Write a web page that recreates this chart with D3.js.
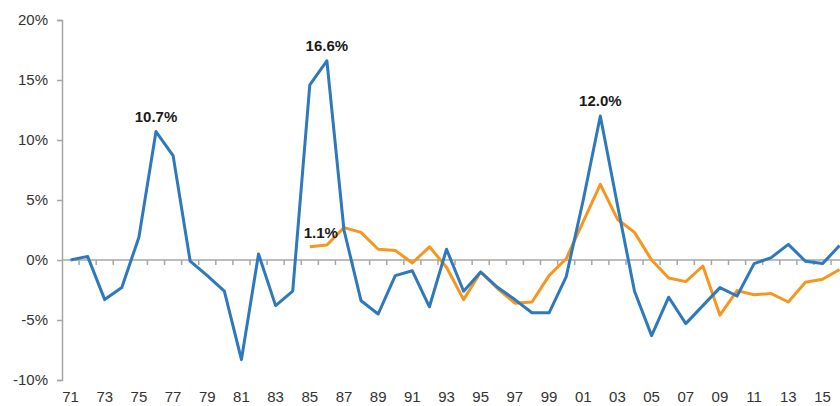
<!DOCTYPE html>
<html>
<head>
<meta charset="utf-8">
<script src="https://cdn.jsdelivr.net/npm/d3@7"></script>
<style>
  body { margin: 0; background: #fff; }
  svg { display: block; font-family: "Liberation Sans", Arial, sans-serif; }
</style>
</head>
<body>
<svg id="chart" width="840" height="406"></svg>
<script>
// categories (years) and series values, in %
const years = [1971, 1972, 1973, 1974, 1975, 1976, 1977, 1978, 1979, 1980,
  1981, 1982, 1983, 1984, 1985, 1986, 1987, 1988, 1989, 1990,
  1991, 1992, 1993, 1994, 1995, 1996, 1997, 1998, 1999, 2000,
  2001, 2002, 2003, 2004, 2005, 2006, 2007, 2008, 2009, 2010,
  2011, 2012, 2013, 2014, 2015, 2016];

const blueValues = [0.0, 0.3, -3.3, -2.3, 1.9, 10.7, 8.7, -0.1, -1.3, -2.6,
  -8.3, 0.5, -3.8, -2.6, 14.6, 16.6, 2.5, -3.4, -4.5, -1.3,
  -0.9, -3.9, 0.9, -2.6, -1.0, -2.3, -3.3, -4.4, -4.4, -1.4,
  5.0, 12.0, 4.6, -2.6, -6.3, -3.1, -5.3, -3.8, -2.3, -3.0,
  -0.3, 0.2, 1.3, -0.1, -0.3, 1.2];

const orangeValues = [null, null, null, null, null, null, null, null, null, null,
  null, null, null, null, 1.1, 1.25, 2.7, 2.3, 0.9, 0.8,
  -0.25, 1.1, -0.6, -3.3, -1.0, -2.4, -3.6, -3.5, -1.3, 0.1,
  3.2, 6.3, 3.4, 2.3, 0.0, -1.5, -1.8, -0.5, -4.6, -2.55,
  -2.9, -2.8, -3.5, -1.85, -1.6, -0.8];

const yTicks = [-10, -5, 0, 5, 10, 15, 20];
const xTickYears = years.filter((y, i) => i % 2 === 0 && y < 2016);

// point labels
const blueLabels = [{ year: 1976, text: "10.7%" }, { year: 1986, text: "16.6%" }, { year: 2002, text: "12.0%" }];
const orangeLabels = [{ year: 1985, text: "1.1%" }];

const svg = d3.select("#chart");
const plotLeft = 62, plotTop = 20, plotBottom = 380;
const step = 17.09;

const x = d3.scaleBand()
  .domain(years)
  .range([plotLeft, plotLeft + step * years.length])
  .paddingInner(0).paddingOuter(0);

const y = d3.scaleLinear().domain([-10, 20]).range([plotBottom, plotTop]);

const cx = d => x(d) + x.bandwidth() / 2;
const fmtYear = d => String(d).slice(2);

// y axis
const yAxis = svg.append("g")
  .attr("transform", `translate(${plotLeft},0)`)
  .call(d3.axisLeft(y).tickValues(yTicks).tickSize(5).tickPadding(9).tickFormat(d => d + "%"));
yAxis.select(".domain").attr("stroke", "#a6a6a6").attr("stroke-width", 1.5);
yAxis.selectAll(".tick line").attr("stroke", "#a6a6a6").attr("stroke-width", 1.5);
yAxis.selectAll(".tick text").attr("font-size", 15).attr("fill", "#333");

// x axis on the zero line, ticks between categories
const xg = svg.append("g").attr("transform", `translate(0,${y(0)})`);
xg.append("line")
  .attr("x1", plotLeft).attr("x2", 840)
  .attr("stroke", "#a6a6a6").attr("stroke-width", 1.5);
xg.selectAll(".tk")
  .data(years.slice(1))
  .enter().append("line")
  .attr("x1", d => x(d)).attr("x2", d => x(d))
  .attr("y1", 0).attr("y2", 5)
  .attr("stroke", "#a6a6a6").attr("stroke-width", 1.5);

svg.append("g").selectAll("text")
  .data(xTickYears)
  .enter().append("text")
  .attr("x", d => cx(d))
  .attr("y", 402)
  .attr("text-anchor", "middle")
  .attr("font-size", 15)
  .attr("fill", "#333")
  .text(fmtYear);

// lines
const line = d3.line()
  .defined(d => d.v !== null)
  .x(d => cx(d.year))
  .y(d => y(d.v));

const orangeData = years.map((yr, i) => ({ year: yr, v: orangeValues[i] }));
const blueData = years.map((yr, i) => ({ year: yr, v: blueValues[i] }));

svg.append("path")
  .datum(orangeData)
  .attr("d", line)
  .attr("fill", "none")
  .attr("stroke", "#f7961e")
  .attr("stroke-width", 3)
  .attr("stroke-linejoin", "round");

svg.append("path")
  .datum(blueData)
  .attr("d", line)
  .attr("fill", "none")
  .attr("stroke", "#2e78bd")
  .attr("stroke-width", 3)
  .attr("stroke-linejoin", "round");

// labels
const valueOf = (arr, yr) => arr[years.indexOf(yr)];

svg.selectAll(".blab")
  .data(blueLabels)
  .enter().append("text")
  .attr("x", d => cx(d.year))
  .attr("y", d => y(valueOf(blueValues, d.year)) - 10)
  .attr("text-anchor", "middle")
  .attr("font-size", 15)
  .attr("font-weight", "bold")
  .attr("fill", "#1a1a1a")
  .text(d => d.text);

svg.selectAll(".olab")
  .data(orangeLabels)
  .enter().append("text")
  .attr("x", d => cx(d.year) + 11)
  .attr("y", d => y(valueOf(orangeValues, d.year)) - 9)
  .attr("text-anchor", "middle")
  .attr("font-size", 15)
  .attr("font-weight", "bold")
  .attr("fill", "#1a1a1a")
  .text(d => d.text);
</script>
</body>
</html>
